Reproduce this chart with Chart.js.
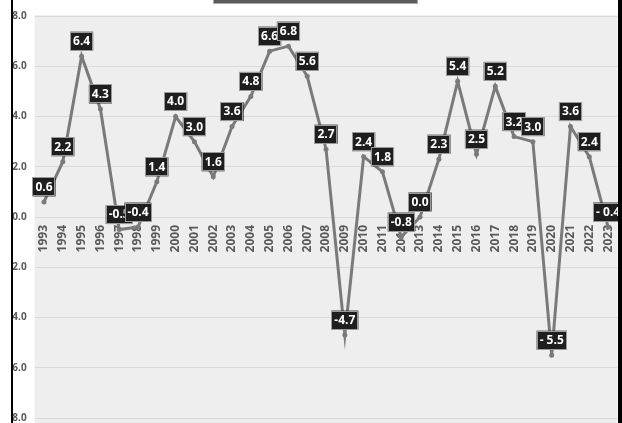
<!DOCTYPE html>
<html>
<head>
<meta charset="utf-8">
<script src="https://cdn.jsdelivr.net/npm/chart.js@4/dist/chart.umd.min.js"></script>
<style>
  html, body { margin: 0; padding: 0; background: #fff; }
  #wrap { position: relative; width: 622px; height: 423px; overflow: hidden; }
  #chart { position: absolute; left: 0; top: 0; }
  .edge { position: absolute; top: 0; height: 423px; }
  #left-white { left: 0; width: 11px; background: #fff; }
  #left-bar { left: 11px; width: 2px; background: #000; }
  #right-bar { left: 618px; width: 4px; background: #000; }
  #title-box { position: absolute; left: 213px; top: -20px; width: 203px; height: 22px;
    background: #5b5b5b; border: 1px solid #a8a8a8; }
</style>
</head>
<body>
<div id="wrap">
  <canvas id="chart" width="622" height="423"></canvas>
  <div id="left-white" class="edge"></div>
  <div id="left-bar" class="edge"></div>
  <div id="right-bar" class="edge"></div>
  <div id="title-box"></div>
</div>
<script>
// Roky a hodnoty
const years = ['1993', '1994', '1995', '1996', '1997', '1998', '1999', '2000', '2001', '2002',
    '2003', '2004', '2005', '2006', '2007', '2008', '2009', '2010', '2011', '2012',
    '2013', '2014', '2015', '2016', '2017', '2018', '2019', '2020', '2021', '2022', '2023'];
const values = [0.6, 2.2, 6.4, 4.3, -0.5, -0.4, 1.4, 4.0, 3.0, 1.6,
    3.6, 4.8, 6.6, 6.8, 5.6, 2.7, -4.7, 2.4, 1.8, -0.8,
    0.0, 2.3, 5.4, 2.5, 5.2, 3.2, 3.0, -5.5, 3.6, 2.4, -0.4];
// štítky, kde je za mínusem mezera ("- 5.5")
const spacedMinus = ['2020', '2023'];

const yMin = -8, yMax = 8, yStep = 2;

const fmt = (v, i) => {
    const s = v.toFixed(1);
    return (v < 0 && spacedMinus.includes(years[i])) ? '- ' + s.slice(1) : s;
};

// Osy nemají ubírat místo plochy grafu (jako v Excelu).
const noPad = (s) => { s.paddingTop = 0; s.paddingBottom = 0; s.paddingLeft = 0; s.paddingRight = 0; };

// ── pozadí plochy grafu ──
const plotBg = {
    id: 'plotBg',
    beforeDraw(chart) {
        const { ctx, chartArea: a } = chart;
        ctx.save();
        ctx.fillStyle = '#eeeeee';
        ctx.fillRect(a.left, a.top - 1, a.right - a.left, a.bottom - a.top + 6);
        ctx.restore();
    },
};

// ── popisky hodnot v černých rámečcích ──
const boxLabels = {
    id: 'boxLabels',
    afterDatasetsDraw(chart) {
        const { ctx } = chart;
        const meta = chart.getDatasetMeta(0);
        ctx.save();
        ctx.font = 'bold 12px "Open Sans", "Liberation Sans", sans-serif';
        ctx.textAlign = 'center';
        ctx.textBaseline = 'middle';
        meta.data.forEach((pt, i) => {
            const txt = fmt(values[i], i);
            const w = ctx.measureText(txt).width + 6;
            const h = 19;
            const cx = pt.x, cy = pt.y - 15;
            ctx.fillStyle = '#1e1e1e';
            ctx.fillRect(cx - w / 2, cy - h / 2, w, h);
            ctx.strokeStyle = '#9a9a9a';
            ctx.lineWidth = 1;
            ctx.strokeRect(Math.round(cx - w / 2) + 0.5, Math.round(cy - h / 2) + 0.5, Math.round(w) - 1, h - 1);
            ctx.fillStyle = '#ffffff';
            ctx.fillText(txt, cx, cy + 0.5);
        });
        ctx.restore();
    },
};

new Chart(document.getElementById('chart'), {
    type: 'line',
    data: {
        labels: years,
        datasets: [{
            data: values,
            borderColor: '#7a7a7a',
            backgroundColor: '#7a7a7a',
            borderWidth: 3,
            pointRadius: 2.5,
            pointBorderWidth: 0,
            tension: 0,
        }],
    },
    options: {
        responsive: false,
        animation: false,
        layout: { padding: { left: 0, right: 4.5, top: 16, bottom: 5 } },
        plugins: { legend: { display: false }, tooltip: { enabled: false } },
        scales: {
            x: {
                offset: true,
                position: { y: 0 },
                afterFit: (s) => { s.height = 0; noPad(s); },
                grid: { display: false, drawTicks: false },
                border: { display: false },
                ticks: {
                    autoSkip: false, minRotation: 90, maxRotation: 90, padding: 8,
                    color: '#595959',
                    font: { family: '"Open Sans", "Liberation Sans", sans-serif', size: 12, weight: 'bold' },
                },
            },
            y: {
                min: yMin, max: yMax,
                afterFit: (s) => { s.width = 34.6; noPad(s); },
                grid: { color: '#d9d9d9', lineWidth: 1, drawTicks: false },
                border: { display: false },
                ticks: {
                    stepSize: yStep, padding: 8,
                    color: '#595959',
                    font: { family: '"Open Sans", "Liberation Sans", sans-serif', size: 10, weight: 'bold' },
                    callback: (v) => Number(v).toFixed(1),
                },
            },
        },
    },
    plugins: [plotBg, boxLabels],
});
</script>
</body>
</html>
